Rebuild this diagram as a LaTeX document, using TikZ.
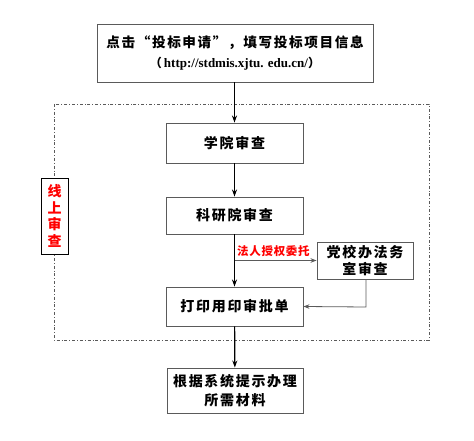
\documentclass[tikz,border=0pt]{standalone}
\usepackage{fontspec}
\newfontfamily\cjk[LetterSpace=12]{Noto Sans CJK SC}
\newfontfamily\cjklab[LetterSpace=6]{Noto Sans CJK SC}
\newfontfamily\urlfont{Liberation Serif}
\usetikzlibrary{arrows.meta}
\definecolor{boxgray}{RGB}{90,90,90}
\begin{document}
\begin{tikzpicture}[x=1pt,y=-1pt,
  box/.style={draw=boxgray,line width=0.9pt,fill=white,inner sep=0pt,align=center,font=\cjk\bfseries\fontsize{14}{17}\selectfont},
  arr/.style={line width=1.2pt,-{Stealth[length=7pt,width=5pt]}},
  thin arr/.style={line width=0.8pt,draw=boxgray,-{Stealth[length=6pt,width=4.5pt]}}]
\useasboundingbox (0,0) rectangle (474,441);
% dashed region
\draw[boxgray,line width=0.7pt,dash dot] (54,104) rectangle (429,340);
% nodes
\node[box,minimum width=276pt,minimum height=58pt] (top) at (235,53)
  {{\fontsize{13.6}{16}\selectfont 点击“投标申请”，填写投标项目信息}\\[3pt]
   {\fontsize{12}{14}\selectfont （\,\urlfont\bfseries\fontsize{13}{14}\selectfont http://stdmis.xjtu. edu.cn/\cjk\fontsize{12}{14}\selectfont ）}};
\node[box,minimum width=137pt,minimum height=40pt] (xy) at (234.5,143) {学院审查};
\node[box,minimum width=137pt,minimum height=37pt] (ky) at (234.5,215.5) {科研院审查};
\node[box,minimum width=137pt,minimum height=39pt] (dy) at (234.5,306.5) {打印用印审批单};
\node[box,minimum width=96pt,minimum height=37pt,font=\cjk\bfseries\fontsize{14}{17}\selectfont] (dx) at (365,260.5) {党校办法务\\室审查};
\node[box,minimum width=136pt,minimum height=45pt,font=\cjk\bfseries\fontsize{14}{19}\selectfont] (gj) at (235,390.5) {根据系统提示办理\\所需材料};
\node[box,draw=black,minimum width=27pt,minimum height=76pt,text=red,font=\cjk\bfseries\fontsize{14}{16.7}\selectfont] (xs) at (54.5,216) {线\\上\\审\\查};
% connectors
\draw[arr] (top.south -| xy.north) -- (xy.north);
\draw[arr] (xy) -- (ky);
\draw[arr] (ky) -- (dy);
\coordinate (br) at (ky.south |- dx.west);
\draw[thin arr] (br) -- (dx.west);
\node[anchor=south west,text=red,inner sep=0pt,font=\cjklab\bfseries\fontsize{11.5}{13}\selectfont] (lb) at (237,257) {法人授权委托};
\coordinate (rt) at (366,307);
\draw[thin arr] (366,279) -- (rt) -- (dy.east);
\draw[arr] (dy) -- (gj);
\end{tikzpicture}
\end{document}
